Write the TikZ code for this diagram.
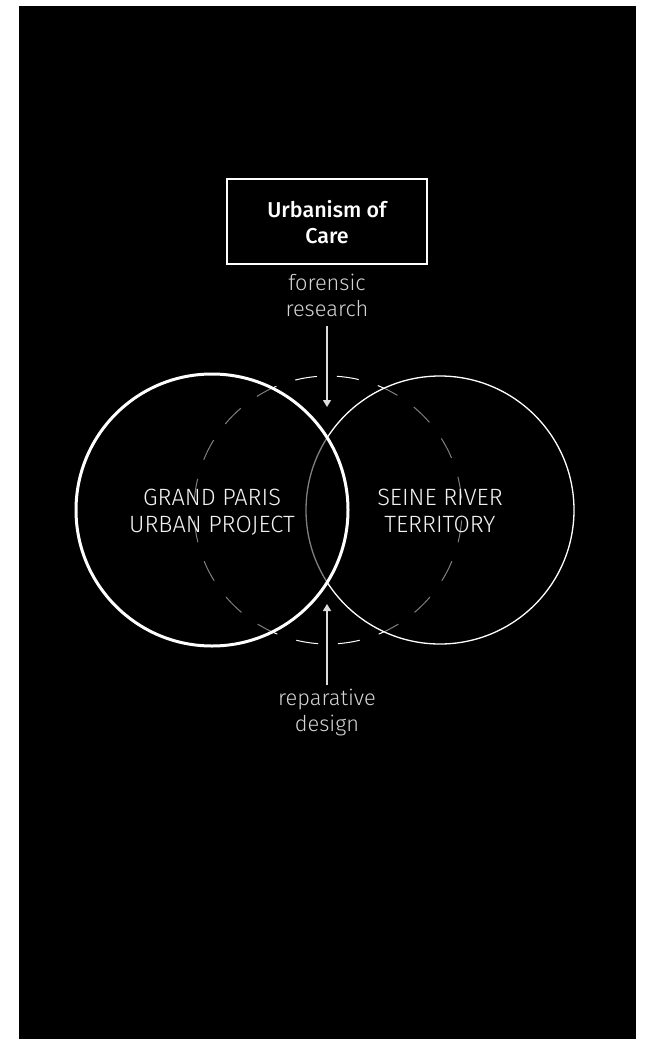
\documentclass[tikz,border=0pt]{standalone}
\usepackage{fontspec}
\setmainfont{Fira Sans}
\newfontfamily\lightf{Fira Sans Light}
\newfontfamily\medf{Fira Sans Medium}
\usetikzlibrary{arrows.meta}
\definecolor{lbl}{HTML}{D4D4D4}
\definecolor{txt}{HTML}{F2F2F2}
\definecolor{arr}{HTML}{DDDDDD}
\tikzset{
  labeltext/.style={text=lbl, align=center, font=\lightf\fontsize{21.8}{26}\selectfont, inner sep=0pt, anchor=base},
  circtext/.style={text=txt, align=center, font=\lightf\fontsize{23.6}{27}\selectfont, inner sep=0pt, anchor=base},
  boxtext/.style={text=white, align=center, font=\medf\fontsize{21.5}{26}\selectfont, inner sep=0pt, anchor=base},
  connector/.style={draw=arr, line width=1.3pt, -{Triangle[width=8pt,length=7pt]}},
}
\begin{document}
\begin{tikzpicture}[x=1pt,y=-1pt]
\useasboundingbox (0,0) rectangle (645,1039);
\fill[black] (19,6) rectangle (636,1039);
% dashed middle circle
\draw[white, line width=1pt, dash pattern=on 22pt off 20pt, dash phase=31.5pt] (328,510) circle[radius=134];
% right circle
\draw[white, line width=1.3pt, fill=black, fill opacity=0.5, draw opacity=1] (440,510) circle[radius=134];
% left circle
\draw[white, line width=3pt, fill=black, fill opacity=0.5, draw opacity=1] (212,510) circle[radius=136];
% box
\draw[white, line width=1.3pt] (227,179) rectangle (427,264);
\node[boxtext] (care) at (327,243) {Urbanism of\\Care};
\node[labeltext] (forensic) at (327,316.7) {forensic\\research};
\node[circtext] (gp) at (212,532) {GRAND PARIS\\URBAN PROJECT};
\node[circtext] (seine) at (440,532) {SEINE RIVER\\TERRITORY};
\node[labeltext] (repar) at (327,731.7) {reparative\\design};
\coordinate (a1s) at (327,326);
\coordinate (a1e) at (327,407);
\coordinate (a2s) at (327,685);
\coordinate (a2e) at (327,604);
\draw[connector] (a1s) -- (a1e);
\draw[connector] (a2s) -- (a2e);
\end{tikzpicture}
\end{document}
